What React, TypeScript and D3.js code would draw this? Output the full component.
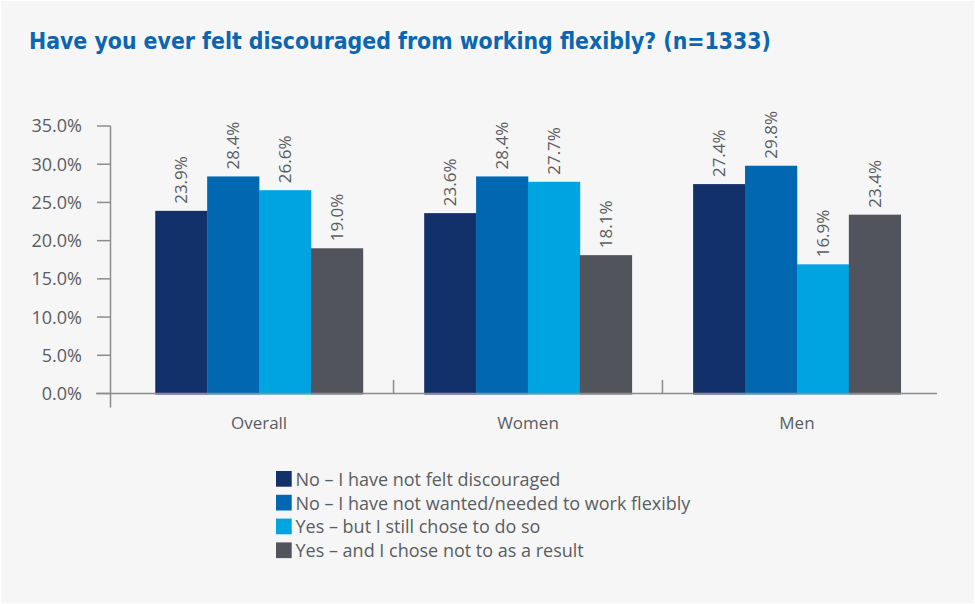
import React from "react";
import * as d3 from "d3";

const categories = ["Overall", "Women", "Men"];
const seriesNames = [
  "No – I have not felt discouraged",
  "No – I have not wanted/needed to work flexibly",
  "Yes – but I still chose to do so",
  "Yes – and I chose not to as a result",
];
const seriesColors = ["#12306a", "#0067b0", "#00a4e0", "#51545c"];
const valuesNotDiscouraged = [23.9, 23.6, 27.4];
const valuesNotNeeded = [28.4, 28.4, 29.8];
const valuesStillChose = [26.6, 27.7, 16.9];
const valuesChoseNot = [19.0, 18.1, 23.4];
const yTicks = [0, 5, 10, 15, 20, 25, 30, 35];
const title = "Have you ever felt discouraged from working flexibly? (n=1333)";

const series = [valuesNotDiscouraged, valuesNotNeeded, valuesStillChose, valuesChoseNot];

const W = 975;
const H = 604;
const FONT = "'Open Sans', 'Noto Sans', sans-serif";
const TEXT = "#5a5d62";
const AXIS = "#8c8c8c";

export default function App() {
  const y = d3.scaleLinear().domain([0, 35]).range([393.5, 126]);
  const x0 = d3.scaleBand<string>().domain(categories).range([124.6, 931.4]).padding(0);
  const bw = x0.bandwidth();
  const x1 = d3
    .scaleBand<number>()
    .domain(seriesNames.map((_, i) => i))
    .range([bw * 0.114, bw * 0.886])
    .padding(0);
  const axisX = 110.5;
  const baseY = y(0);

  return (
    <svg width={W} height={H} style={{ display: "block", position: "absolute", left: 0, top: 0 }}>
      <rect x={0} y={0} width={W} height={H} fill="#ffffff" />
      <rect x={1} y={1} width={W - 2} height={H - 2} fill="#f6f6f6" />
      <text
        x={29}
        y={48.5}
        fontFamily="'DejaVu Sans Condensed', 'Liberation Sans Narrow', 'Roboto', sans-serif"
        fontWeight={700}
        fontSize={22.5}
        fill="#0a66b2"
        textLength={742}
        lengthAdjust="spacingAndGlyphs"
      >
        {title}
      </text>

      {/* bars */}
      {categories.map((c, ci) => (
        <g key={c} transform={`translate(${x0(c)},0)`}>
          {series.map((vals, si) => {
            const v = vals[ci];
            const bx = x1(si)!;
            const top = y(v);
            return (
              <g key={si}>
                <rect x={bx} y={top} width={x1.bandwidth() + 0.3} height={baseY + 1 - top} fill={seriesColors[si]} />
                <text
                  transform={`translate(${bx + x1.bandwidth() / 2 + 6},${top - 7}) rotate(-90)`}
                  fontFamily={FONT}
                  fontSize={17}
                  fill={TEXT}
                  textAnchor="start"
                >
                  {v.toFixed(1) + "%"}
                </text>
              </g>
            );
          })}
          <text
            x={bw / 2}
            y={429}
            textAnchor="middle"
            fontFamily={FONT}
            fontSize={17}
            fill={TEXT}
          >
            {c}
          </text>
        </g>
      ))}

      {/* x axis */}
      <line x1={96} x2={937} y1={baseY} y2={baseY} stroke={AXIS} strokeWidth={1.5} />
      {categories.slice(1).map((c) => (
        <line key={c} x1={x0(c)!} x2={x0(c)!} y1={380} y2={baseY} stroke={AXIS} strokeWidth={1.5} />
      ))}

      {/* y axis */}
      <line x1={axisX} x2={axisX} y1={126} y2={407.5} stroke={AXIS} strokeWidth={1.5} />
      {yTicks.map((t) => (
        <g key={t}>
          <line x1={97} x2={axisX} y1={y(t)} y2={y(t)} stroke={AXIS} strokeWidth={1.5} />
          <text
            x={82}
            y={y(t)}
            dy="0.36em"
            textAnchor="end"
            fontFamily={FONT}
            fontSize={18}
            fill={TEXT}
          >
            {t.toFixed(1) + "%"}
          </text>
        </g>
      ))}

      {/* legend */}
      {seriesNames.map((n, i) => {
        const ly = 471 + i * 23.8;
        return (
          <g key={n}>
            <rect x={276} y={ly} width={15.7} height={15.7} fill={seriesColors[i]} />
            <text x={295.5} y={ly + 14.8} fontFamily={FONT} fontSize={18} fill={TEXT}>
              {n}
            </text>
          </g>
        );
      })}
    </svg>
  );
}
